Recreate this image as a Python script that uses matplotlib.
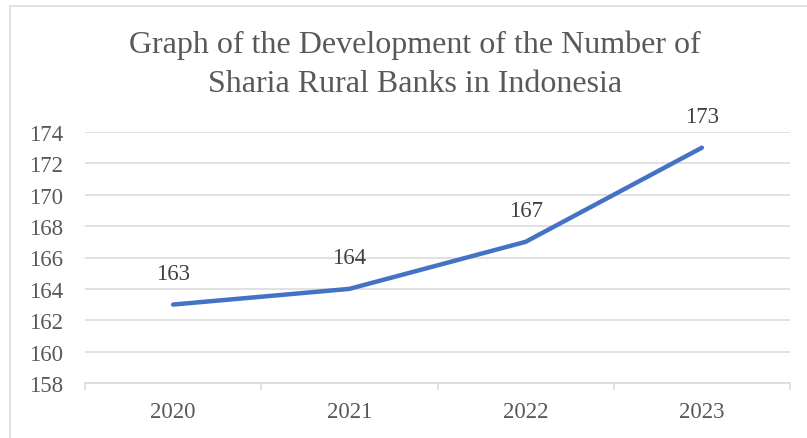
import matplotlib.pyplot as plt
from matplotlib.patches import Rectangle

years = ["2020", "2021", "2022", "2023"]
banks = [163, 164, 167, 173]
y_ticks = [158, 160, 162, 164, 166, 168, 170, 172, 174]

plt.rcParams['font.family'] = ['Liberation Serif', 'DejaVu Serif']

W, H = 807, 439
fig = plt.figure(figsize=(W / 100, H / 100), dpi=100)
ax = fig.add_axes([85 / W, 1 - 384 / H, (790 - 85) / W, (384 - 133) / H])

gray_text = "#595959"
grid_col = "#D9D9D9"

x = list(range(len(years)))
ax.plot(x, banks, color="#4472C4", lw=3.2, solid_capstyle="round", zorder=3)
for xi, v in zip(x, banks):
    ax.annotate(str(v), (xi, v), xytext=(0, 22.5), textcoords="offset points",
                ha="center", va="center", fontsize=16.5, color="#404040")

ax.set_xlim(-0.5, len(years) - 0.5)
ax.set_ylim(158, 174)
ax.set_yticks(y_ticks)
ax.set_xticks(x)
ax.set_xticklabels(years)
ax.set_xticks([i - 0.5 for i in range(len(years) + 1)], minor=True)

ax.grid(axis="y", color=grid_col, lw=1.1)
ax.set_axisbelow(True)
for s in ["top", "right", "left"]:
    ax.spines[s].set_visible(False)
ax.spines["bottom"].set_color(grid_col)
ax.spines["bottom"].set_linewidth(1.1)

ax.tick_params(axis="y", length=0, pad=16, labelsize=16.5, labelcolor=gray_text)
ax.tick_params(axis="x", which="major", length=0, pad=13, labelsize=16.5, labelcolor=gray_text)
ax.tick_params(axis="x", which="minor", length=5, width=1.1, color=grid_col)

fig.text(415 / W, 1 - 53 / H, "Graph of the Development of the Number of",
         ha="center", va="baseline", fontsize=23, color=gray_text)
fig.text(415 / W, 1 - 92 / H, "Sharia Rural Banks in Indonesia",
         ha="center", va="baseline", fontsize=23, color=gray_text)

fig.patches.append(Rectangle((10 / W, -0.05), 1.1, 1 - 7 / H + 0.05,
                             transform=fig.transFigure, fill=False,
                             edgecolor=grid_col, lw=1.1))

fig.savefig("out.png", dpi=100)
